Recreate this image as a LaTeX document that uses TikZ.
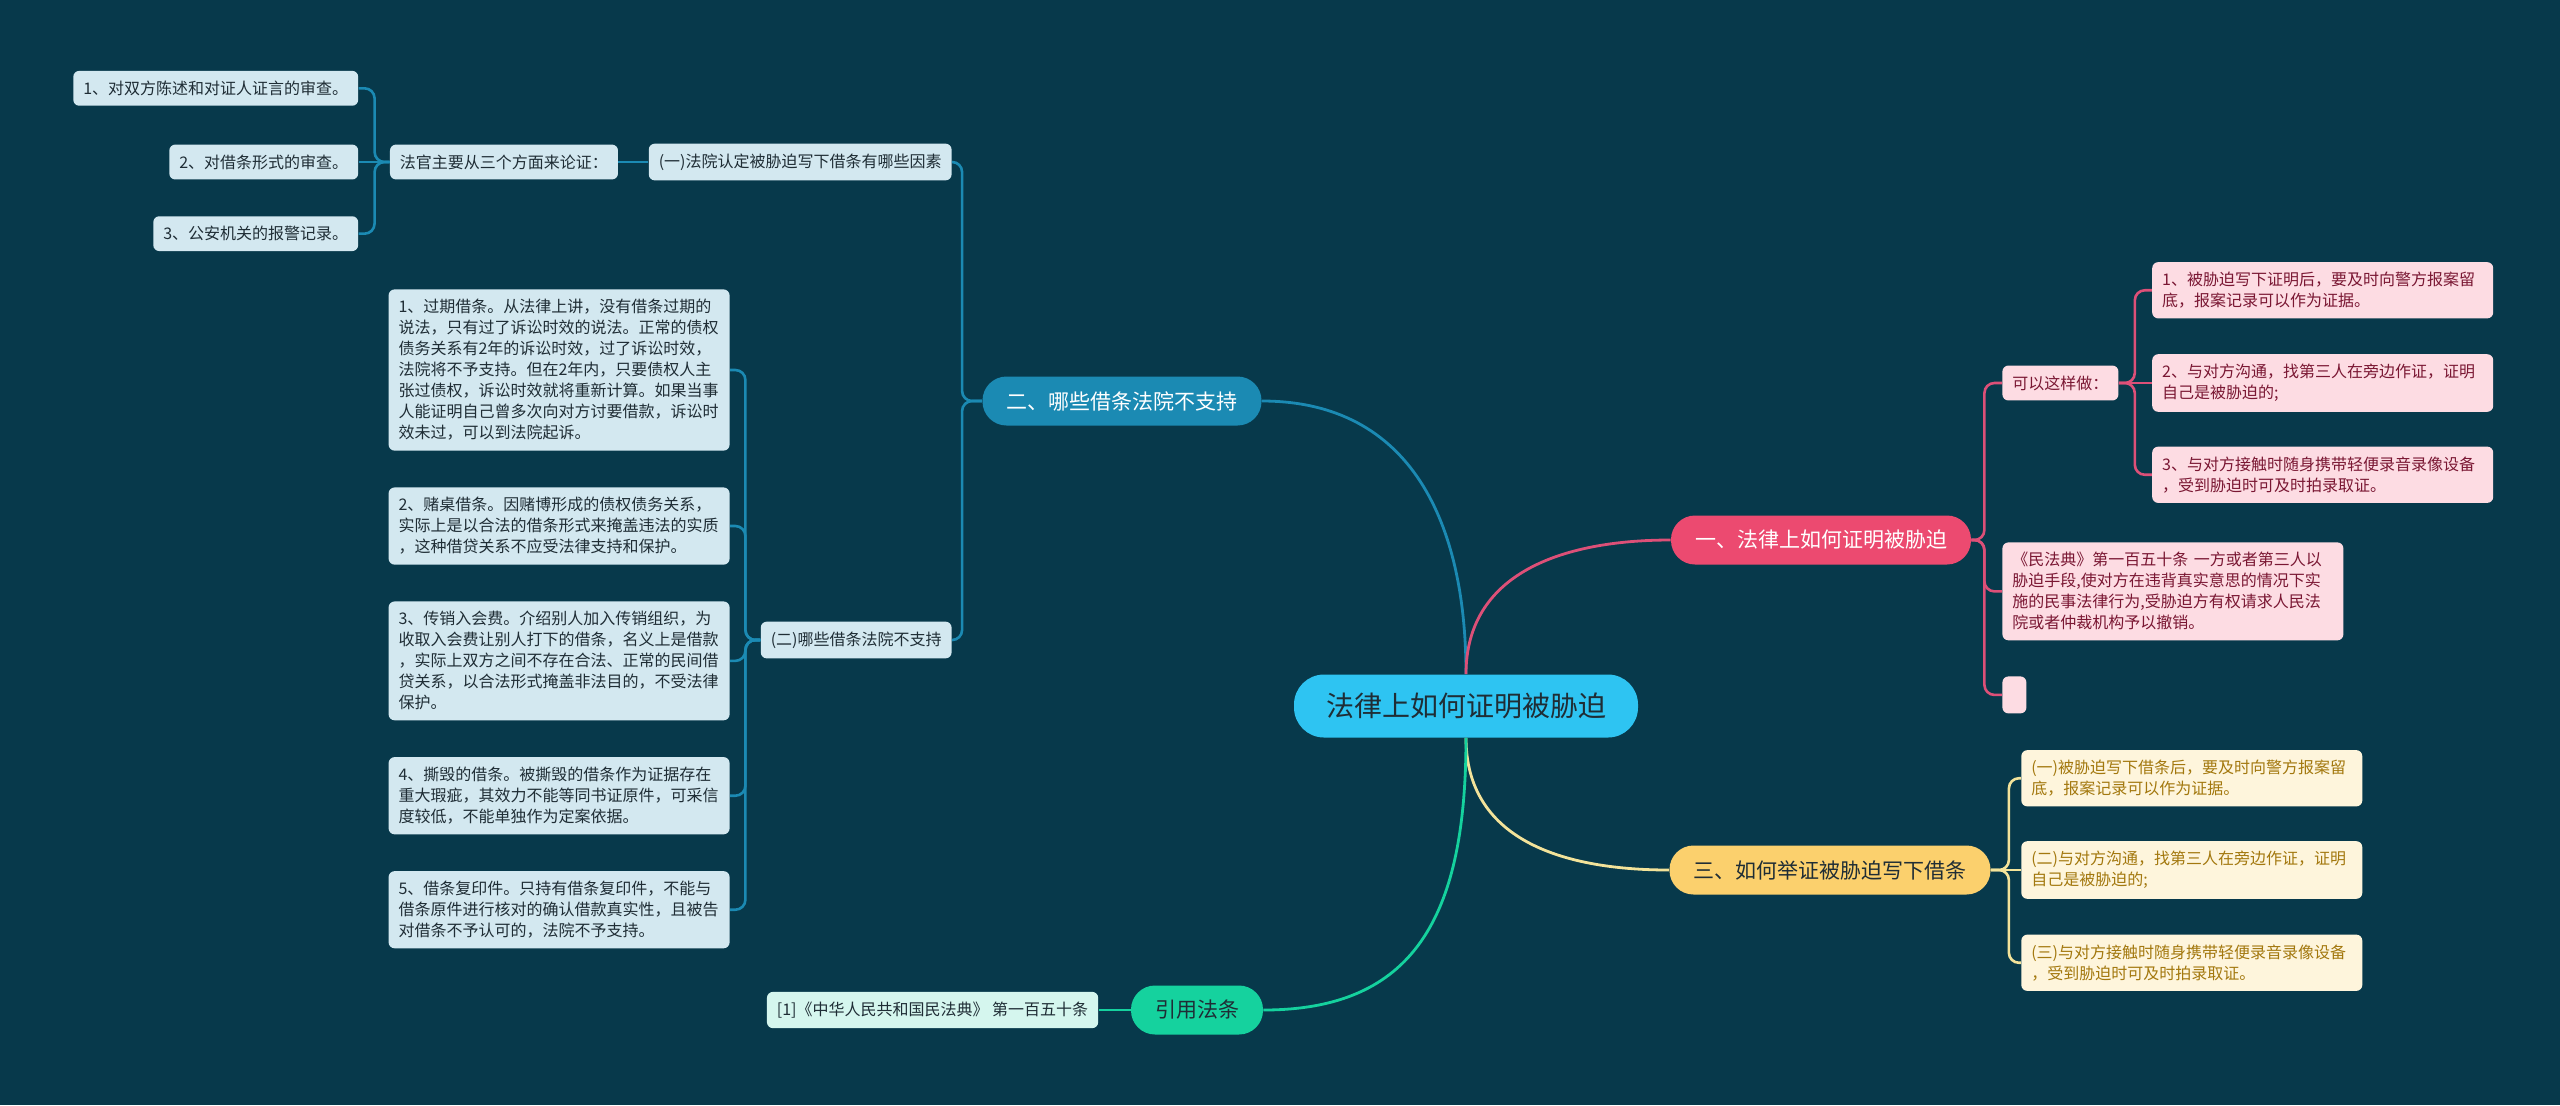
\documentclass[tikz,border=0pt]{standalone}
\usepackage{fontspec}
\setmainfont{Noto Sans CJK SC}
\usepackage{xcolor}
\usepackage{tikz}
\usetikzlibrary{positioning,calc}
\definecolor{bgcol}{HTML}{07394B}
\definecolor{rootcol}{HTML}{2EC4F2}
\definecolor{bluecol}{HTML}{1B8AB3}
\definecolor{bluelf}{HTML}{D3E8F0}
\definecolor{pinkcol}{HTML}{EC4A70}
\definecolor{pinkln}{HTML}{DD5078}
\definecolor{pinklf}{HTML}{FDDCE3}
\definecolor{pinktx}{HTML}{7A1733}
\definecolor{yelcol}{HTML}{FBD06D}
\definecolor{yelln}{HTML}{F3E39A}
\definecolor{yellf}{HTML}{FEF5DC}
\definecolor{yeltx}{HTML}{A3780E}
\definecolor{grncol}{HTML}{15D29E}
\definecolor{grnlf}{HTML}{D5F6EE}
\definecolor{darktx}{HTML}{1F2D35}
\newcommand{\leaffont}{\fontsize{8}{10.5}\selectfont}
\newcommand{\topicfont}{\fontsize{10.5}{13}\selectfont}

\begin{document}
\begin{tikzpicture}[x=0.5pt,y=-0.5pt,
  mainbox/.style={fill=rootcol,text=darktx,rounded corners=15pt,inner xsep=16pt,minimum height=31.5pt,font=\fontsize{14}{17}\selectfont},
  topic/.style={rounded corners=12pt,inner xsep=12pt,minimum height=24.5pt,font=\topicfont},
  leaf/.style={rounded corners=3pt,inner xsep=5pt,inner ysep=5pt,font=\leaffont,align=left},
  wide/.style={leaf,text width=160.5pt},
  blf/.style={fill=bluelf,text=darktx},
  plf/.style={fill=pinklf,text=pinktx},
  ylf/.style={fill=yellf,text=yeltx},
  link/.style={line width=1.4pt},
  fork/.style={line width=1.3pt,rounded corners=5pt}]
\useasboundingbox (0,0) rectangle (2560,1105);
\fill[bgcol] (0,0) rectangle (2560,1105);
\node[mainbox] (root) at (1466,706) {法律上如何证明被胁迫};
\node[topic,fill=pinkcol,text=white] (law) at (1821,540) {一、法律上如何证明被胁迫};
\node[topic,fill=bluecol,text=white] (notes) at (1122,401) {二、哪些借条法院不支持};
\node[topic,fill=yelcol,text=darktx] (proof) at (1830,870) {三、如何举证被胁迫写下借条};
\node[topic,fill=grncol,text=darktx] (cited) at (1197,1010) {引用法条};
\node[leaf,blf,anchor=east] (factors) at (952,162) {(一)法院认定被胁迫写下借条有哪些因素};
\node[leaf,blf,left=15pt of factors] (judge) {法官主要从三个方面来论证：};
\node[leaf,blf,left=15.5pt of judge] (check2) {2、对借条形式的审查。};
\node[leaf,blf,above=19pt of check2.north east,anchor=south east] (check1) {1、对双方陈述和对证人证言的审查。};
\node[leaf,blf,below=18pt of check2.south east,anchor=north east] (check3) {3、公安机关的报警记录。};
\node[leaf,blf,anchor=east] (unsup) at (952,640) {(二)哪些借条法院不支持};
\node[wide,blf,anchor=north east] (expired) at (730,289) {1、过期借条。从法律上讲，没有借条过期的\\说法，只有过了诉讼时效的说法。正常的债权\\债务关系有2年的诉讼时效，过了诉讼时效，\\法院将不予支持。但在2年内，只要债权人主\\张过债权，诉讼时效就将重新计算。如果当事\\人能证明自己曾多次向对方讨要借款，诉讼时\\效未过，可以到法院起诉。};
\node[wide,blf,below=18pt of expired] (gamble) {2、赌桌借条。因赌博形成的债权债务关系，\\实际上是以合法的借条形式来掩盖违法的实质\\，这种借贷关系不应受法律支持和保护。};
\node[wide,blf,below=18pt of gamble] (pyramid) {3、传销入会费。介绍别人加入传销组织，为\\收取入会费让别人打下的借条，名义上是借款\\，实际上双方之间不存在合法、正常的民间借\\贷关系，以合法形式掩盖非法目的，不受法律\\保护。};
\node[wide,blf,below=18pt of pyramid] (torn) {4、撕毁的借条。被撕毁的借条作为证据存在\\重大瑕疵，其效力不能等同书证原件，可采信\\度较低，不能单独作为定案依据。};
\node[wide,blf,below=18pt of torn] (copy) {5、借条复印件。只持有借条复印件，不能与\\借条原件进行核对的确认借款真实性，且被告\\对借条不予认可的，法院不予支持。};
\node[leaf,fill=grnlf,text=darktx,left=16pt of cited] (civcode) {[1]《中华人民共和国民法典》 第一百五十条};
\node[leaf,plf,anchor=west] (howto) at (2002,383) {可以这样做：};
\node[wide,plf,right=16.5pt of howto] (witness) {2、与对方沟通，找第三人在旁边作证，证明\\自己是被胁迫的;};
\node[wide,plf,above=17.5pt of witness] (report) {1、被胁迫写下证明后，要及时向警方报案留\\底，报案记录可以作为证据。};
\node[wide,plf,below=17pt of witness] (record) {3、与对方接触时随身携带轻便录音录像设备\\，受到胁迫时可及时拍录取证。};
\node[wide,plf,anchor=north west] (article) at (2002,542) {《民法典》第一百五十条 一方或者第三人以\\胁迫手段,使对方在违背真实意思的情况下实\\施的民事法律行为,受胁迫方有权请求人民法\\院或者仲裁机构予以撤销。};
\node[leaf,plf,anchor=north west,minimum width=12pt,minimum height=18.5pt] (blank) at (2002,676) {};
\node[wide,ylf,right=15pt of proof] (ywitness) {(二)与对方沟通，找第三人在旁边作证，证明\\自己是被胁迫的;};
\node[wide,ylf,above=17pt of ywitness] (yreport) {(一)被胁迫写下借条后，要及时向警方报案留\\底，报案记录可以作为证据。};
\node[wide,ylf,below=17.5pt of ywitness] (yrecord) {(三)与对方接触时随身携带轻便录音录像设备\\，受到胁迫时可及时拍录取证。};
\draw[link,bluecol] (root.north) .. controls +(0,-150) and +(150,0) .. (notes.east);
\draw[link,pinkln] (root.north) .. controls +(0,-100) and +(-110,0) .. (law.west);
\draw[link,yelln] (root.south) .. controls +(0,100) and +(-110,0) .. (proof.west);
\draw[link,grncol] (root.south) .. controls +(0,180) and +(150,0) .. (cited.east);
\draw[fork,bluecol] (notes.west) -- ++(-10pt,0) |- (factors.east);
\draw[fork,bluecol] (notes.west) -- ++(-10pt,0) |- (unsup.east);
\draw[fork,bluecol] (factors.west) -- (judge.east);
\draw[fork,bluecol] (judge.west) -- ++(-7.5pt,0) |- (check1.east);
\draw[fork,bluecol] (judge.west) -- (check2.east);
\draw[fork,bluecol] (judge.west) -- ++(-7.5pt,0) |- (check3.east);
\draw[fork,bluecol] (unsup.west) -- ++(-7.5pt,0) |- (expired.east);
\draw[fork,bluecol] (unsup.west) -- ++(-7.5pt,0) |- (gamble.east);
\draw[fork,bluecol] (unsup.west) -- ++(-7.5pt,0) |- (pyramid.east);
\draw[fork,bluecol] (unsup.west) -- ++(-7.5pt,0) |- (torn.east);
\draw[fork,bluecol] (unsup.west) -- ++(-7.5pt,0) |- (copy.east);
\draw[fork,grncol] (cited.west) -- (civcode.east);
\draw[fork,pinkln] (law.east) -- ++(6.5pt,0) |- (howto.west);
\draw[fork,pinkln] (law.east) -- ++(6.5pt,0) |- (article.west);
\draw[fork,pinkln] (law.east) -- ++(6.5pt,0) |- (blank.west);
\draw[fork,pinkln] (howto.east) -- ++(8pt,0) |- (report.west);
\draw[fork,pinkln] (howto.east) -- (witness.west);
\draw[fork,pinkln] (howto.east) -- ++(8pt,0) |- (record.west);
\draw[fork,yelln] (proof.east) -- ++(9pt,0) |- (yreport.west);
\draw[fork,yelln] (proof.east) -- (ywitness.west);
\draw[fork,yelln] (proof.east) -- ++(9pt,0) |- (yrecord.west);
\end{tikzpicture}
\end{document}
